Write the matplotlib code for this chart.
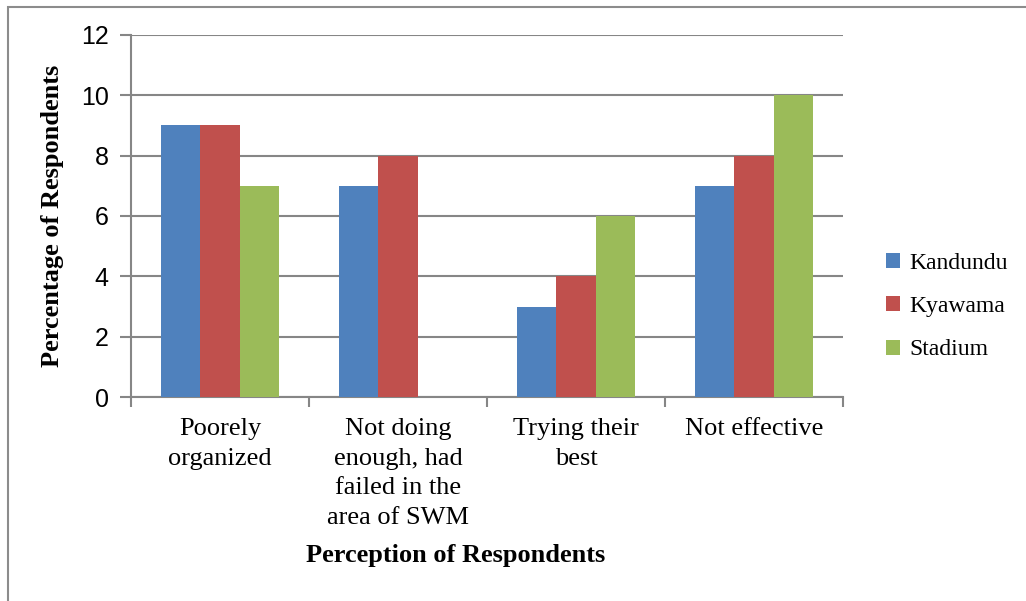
import matplotlib.pyplot as plt
import numpy as np
from matplotlib.patches import Rectangle

categories = ["Poorely\norganized",
              "Not doing\nenough, had\nfailed in the\narea of SWM",
              "Trying their\nbest",
              "Not effective"]
kandundu = [9, 7, 3, 7]
kyawama = [9, 8, 4, 8]
stadium = [7, 0, 6, 10]

series = [("Kandundu", kandundu, "#4F81BD"),
          ("Kyawama", kyawama, "#C0504D"),
          ("Stadium", stadium, "#9BBB59")]

fig = plt.figure(figsize=(10.26, 6.01), dpi=100)
ax = fig.add_axes([0.1277, 0.3394, 0.6939, 0.6024])

x = np.arange(len(categories))
width = 0.22
for k, (name, vals, col) in enumerate(series):
    ax.bar(x + (k - 1) * width, vals, width, color=col, label=name, zorder=3)

grid_col = "#868686"
ax.set_xlim(-0.5, len(categories) - 0.5)
ax.set_ylim(0, 12)
ax.set_yticks(range(0, 13, 2))
ax.yaxis.grid(True, color=grid_col, linewidth=1.5, zorder=0)
for s in ["top", "right"]:
    ax.spines[s].set_visible(False)
for s in ["left", "bottom"]:
    ax.spines[s].set_color(grid_col)
    ax.spines[s].set_linewidth(1.5)

ax.tick_params(axis="y", length=8, width=1.5, color=grid_col, pad=8,
               labelsize=18)
for lab in ax.get_yticklabels():
    lab.set_fontfamily("Liberation Sans")

# category labels sit between boundary tick marks
ax.set_xticks(np.arange(-0.5, len(categories)), minor=False)
ax.set_xticklabels([])
ax.tick_params(axis="x", length=7, width=1.5, color=grid_col)
ax.set_xticks(x, minor=True)
ax.set_xticklabels(categories, minor=True, fontfamily="Liberation Serif",
                   fontsize=19, linespacing=1.45)
ax.tick_params(axis="x", which="minor", length=0, pad=15)

ax.set_ylabel("Percentage of Respondents", fontfamily="Liberation Serif",
              fontweight="bold", fontsize=19, labelpad=12)
fig.text(0.444, 0.075, "Perception of Respondents", ha="center", va="center",
         fontfamily="Liberation Serif", fontweight="bold", fontsize=19)

leg = ax.legend(loc="center left", bbox_to_anchor=(1.03, 0.25), frameon=False,
                prop={"family": "Liberation Serif", "size": 17},
                handlelength=0.6, handleheight=0.6, handletextpad=0.4,
                labelspacing=0.95)

fig.add_artist(Rectangle((0.008, -0.01), 1.1, 0.999, transform=fig.transFigure,
                         fill=False, edgecolor="#8c8c8c", linewidth=1.5))

fig.savefig("out.png", dpi=100)
